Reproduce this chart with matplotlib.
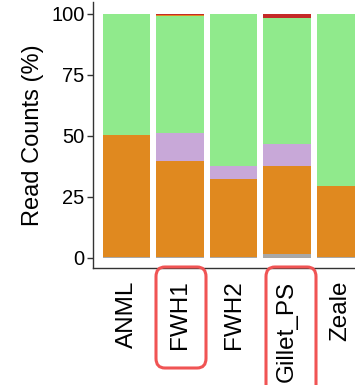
import matplotlib.pyplot as plt
from matplotlib.patches import FancyBboxPatch
import numpy as np

plt.rcParams['font.family'] = ['Liberation Sans', 'DejaVu Sans']

# Porcentaje de lecturas por primer
primers = ['ANML', 'FWH1', 'FWH2', 'Gillet_PS', 'Zeale']
gris = [0.5, 0.5, 0.5, 1.6, 0.5]
naranja = [49.9, 39.4, 31.9, 36.2, 28.8]
morado = [0.0, 11.5, 5.4, 8.9, 0.0]
verde = [49.6, 47.6, 62.2, 51.5, 70.7]
naranja2 = [0.0, 0.5, 0.0, 0.0, 0.0]
rojo = [0.0, 0.5, 0.0, 1.8, 0.0]

capas = [gris, naranja, morado, verde, naranja2, rojo]
colores = ['#A8A8A8', '#E0891F', '#C8A8D8', '#90EA8C', '#E0891F', '#C42A28']

fig = plt.figure(figsize=(3.55, 3.85), dpi=100)
ax = fig.add_axes([93/355, 117/385, 262/355, 266/385])

x = np.arange(len(primers))
base = np.zeros(len(primers))
for capa, col in zip(capas, colores):
    ax.bar(x, capa, bottom=base, width=0.88, color=col, linewidth=0)
    base = base + np.array(capa)

ax.set_xlim(-0.626, 4.27)
ax.set_ylim(-4.1, 104.9)
ax.set_yticks([0, 25, 50, 75, 100])
ax.set_xticks(x)
ax.set_xticklabels(primers, rotation=90, va='top', ha='center')
ax.tick_params(axis='x', length=0, pad=9, labelsize=17.5)
ax.tick_params(axis='y', length=4, width=1, pad=2, labelsize=14.5, color='#333333')
ax.set_ylabel('Read Counts (%)', fontsize=17, labelpad=5)

for lado in ['top', 'right']:
    ax.spines[lado].set_visible(False)
for lado in ['left', 'bottom']:
    ax.spines[lado].set_color('#333333')
    ax.spines[lado].set_linewidth(1)

# Recuadros rojos sobre FWH1 y Gillet_PS
def recuadro(x0, y0, x1, y1):
    caja = FancyBboxPatch((x0/355, 1 - y1/385), (x1 - x0)/355, (y1 - y0)/385,
                          boxstyle='round,pad=0,rounding_size=0.025',
                          transform=fig.transFigure, fill=False,
                          edgecolor='#F05454', linewidth=2.2, clip_on=False)
    fig.patches.append(caja)

recuadro(156, 267, 206, 368)
recuadro(266, 267, 316, 400)

fig.savefig('out.png', dpi=100)
